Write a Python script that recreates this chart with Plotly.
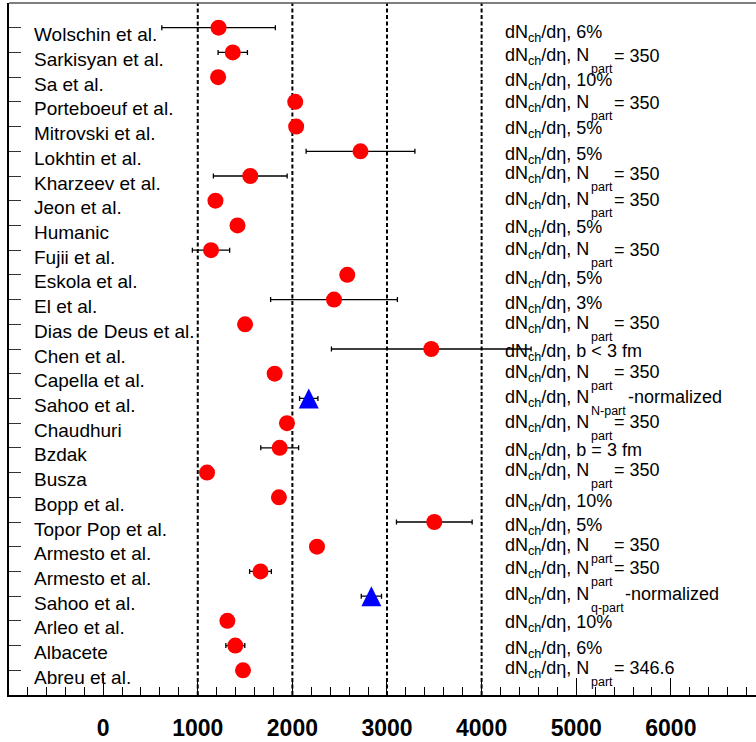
import plotly.graph_objects as go

# ---------------- data ----------------
labels = ["Wolschin et al.", "Sarkisyan et al.", "Sa et al.", "Porteboeuf et al.",
          "Mitrovski et al.", "Lokhtin et al.", "Kharzeev et al.", "Jeon et al.",
          "Humanic", "Fujii et al.", "Eskola et al.", "El et al.",
          "Dias de Deus et al.", "Chen et al.", "Capella et al.", "Sahoo et al.",
          "Chaudhuri", "Bzdak", "Busza", "Bopp et al.", "Topor Pop et al.",
          "Armesto et al.", "Armesto et al.", "Sahoo et al.", "Arleo et al.",
          "Albacete", "Abreu et al."]
values = [1220, 1370, 1215, 2030, 2040, 2720, 1555, 1187, 1420, 1140, 2580, 2440,
          1500, 3468, 1813, 2173, 1943, 1866, 1098, 1858, 3500, 2260, 1663, 2835,
          1313, 1397, 1478]
errors = [600, 155, 0, 0, 0, 575, 390, 0, 0, 197, 0, 670, 0, 1055, 0, 97, 0, 200,
          0, 0, 400, 0, 115, 107, 0, 100, 0]
marker_kind = ["c"] * 15 + ["t"] + ["c"] * 7 + ["t"] + ["c"] * 3
cond_main = ["6%", "N", "10%", "N", "5%", "5%", "N", "N", "5%", "N", "5%", "3%", "N",
             "b < 3 fm", "N", "N", "N", "b = 3 fm", "N", "10%", "5%", "N", "N", "N",
             "10%", "6%", "N"]
cond_sub = ["", "part", "", "part", "", "", "part", "part", "", "part", "", "", "part",
            "", "part", "N-part", "part", "", "part", "", "", "part", "part", "q-part",
            "", "", "part"]
cond_after = ["", "= 350", "", "= 350", "", "", "= 350", "= 350", "", "= 350", "", "",
              "= 350", "", "= 350", "-normalized", "= 350", "", "= 350", "", "",
              "= 350", "= 350", "-normalized", "", "", "= 346.6"]
x_range = [-995, 6900]
ref_lines = [1000, 2000, 3000, 4000]

# ---------------- layout constants ----------------
FONT = "Liberation Sans, Arial, Helvetica, sans-serif"
n = len(labels)
ypos = [n - 1 - i for i in range(n)]
y_range = [-1, n]
text_x = 4237
after_shift = {"part": 109, "N-part": 123, "q-part": 120}
# vertical placement (px, downwards) of each right-hand caption relative to its row
text_dy = [5, 3.3, 3.5, 0.8, 2.1, 3.3, -2.4, -1.1, 2.2, -0.6, 3.7, 4, -0.8, 2.5,
           -1.3, -1, -0.7, 2.5, -2.2, 4.1, 3.4, -1.4, -3.1, -1.8, 1.4, 2.7, -2]
W, H = 756, 742
M = dict(l=9, r=0, t=3, b=47, pad=0)
# the upward triangle symbol hangs below its anchor; a twin axis lifts it by half its height
tri_size = 20
px_per_unit = (H - M["t"] - M["b"]) / (y_range[1] - y_range[0])
lift = (tri_size / 2) / px_per_unit

fig = go.Figure()

def subset(kind):
    idx = [i for i in range(n) if marker_kind[i] == kind]
    return ([values[i] for i in idx], [ypos[i] for i in idx],
            [errors[i] if errors[i] > 0 else None for i in idx])

xc, yc, ec = subset("c")
fig.add_trace(go.Scatter(
    x=xc, y=yc, mode="markers",
    marker=dict(symbol="circle", size=16, color="#ff0000", line=dict(width=0)),
    error_x=dict(type="data", array=ec, symmetric=True, color="black",
                 thickness=1.3, width=2.5),
    showlegend=False, hoverinfo="skip"))

xt, yt, et = subset("t")
# error bars of the triangle points (on the main axis)
fig.add_trace(go.Scatter(
    x=xt, y=yt, mode="markers",
    marker=dict(size=1, color="rgba(0,0,0,0)"),
    error_x=dict(type="data", array=et, symmetric=True, color="black",
                 thickness=1.3, width=2.5),
    showlegend=False, hoverinfo="skip"))
# triangle markers
fig.add_trace(go.Scatter(
    x=xt, y=yt, mode="markers", yaxis="y2",
    marker=dict(symbol="arrow-up", size=tri_size, color="#0000ff",
                line=dict(width=0)),
    showlegend=False, hoverinfo="skip"))

shapes = []
for v in ref_lines:
    shapes.append(dict(type="line", xref="x", yref="paper", x0=v, x1=v, y0=0, y1=1,
                       line=dict(color="black", width=2, dash="4px,2.5px"),
                       layer="below"))
shapes.append(dict(type="line", xref="paper", yref="paper", x0=0, x1=1, y0=1, y1=1,
                   line=dict(color="#555555", width=1.5)))

annotations = []
for i in range(n):
    annotations.append(dict(
        text=labels[i], xref="paper", yref="y", x=0.0321, y=ypos[i],
        xanchor="left", yanchor="middle", yshift=-7, showarrow=False, borderpad=0,
        font=dict(family=FONT, size=19, color="black")))
    dy = text_dy[i]
    annotations.append(dict(
        text="dN<sub>ch</sub>/d\u03b7, " + cond_main[i], xref="x", yref="y",
        x=text_x, y=ypos[i], xanchor="left", yanchor="middle", yshift=-(dy + 1),
        showarrow=False, borderpad=0, font=dict(family=FONT, size=18, color="black")))
    if cond_sub[i]:
        annotations.append(dict(
            text=cond_sub[i], xref="x", yref="y", x=text_x, y=ypos[i],
            xanchor="left", yanchor="middle", xshift=86, yshift=-(dy + 13.5),
            showarrow=False, borderpad=0,
            font=dict(family=FONT, size=12.5, color="black")))
        annotations.append(dict(
            text=cond_after[i], xref="x", yref="y", x=text_x, y=ypos[i],
            xanchor="left", yanchor="middle", xshift=after_shift[cond_sub[i]],
            yshift=-dy, showarrow=False, borderpad=0,
            font=dict(family=FONT, size=18, color="black")))

fig.update_layout(
    width=W, height=H, autosize=False,
    margin=M,
    paper_bgcolor="white", plot_bgcolor="white",
    shapes=shapes, annotations=annotations,
    xaxis=dict(range=x_range, tick0=0, dtick=1000, ticks="inside", ticklen=17,
               tickwidth=1, tickcolor="black", showgrid=False, zeroline=False,
               showline=True, linecolor="black", linewidth=2,
               tickfont=dict(family=FONT, size=23, color="black", weight="bold"),
               ticklabelstandoff=11,
               minor=dict(dtick=200, tick0=0, ticks="inside", ticklen=8,
                          tickwidth=1, tickcolor="black", showgrid=False)),
    yaxis=dict(range=y_range, tickvals=ypos, ticks="inside", ticklen=12,
               tickwidth=1, tickcolor="#333333", showticklabels=False,
               showgrid=False, zeroline=False, showline=True, linecolor="black",
               linewidth=2),
    yaxis2=dict(range=[y_range[0] - lift, y_range[1] - lift], overlaying="y",
                visible=False, showgrid=False, zeroline=False),
)

fig.write_html("out.html", config={"displayModeBar": False},
               post_script="document.body.style.margin='0px';")
